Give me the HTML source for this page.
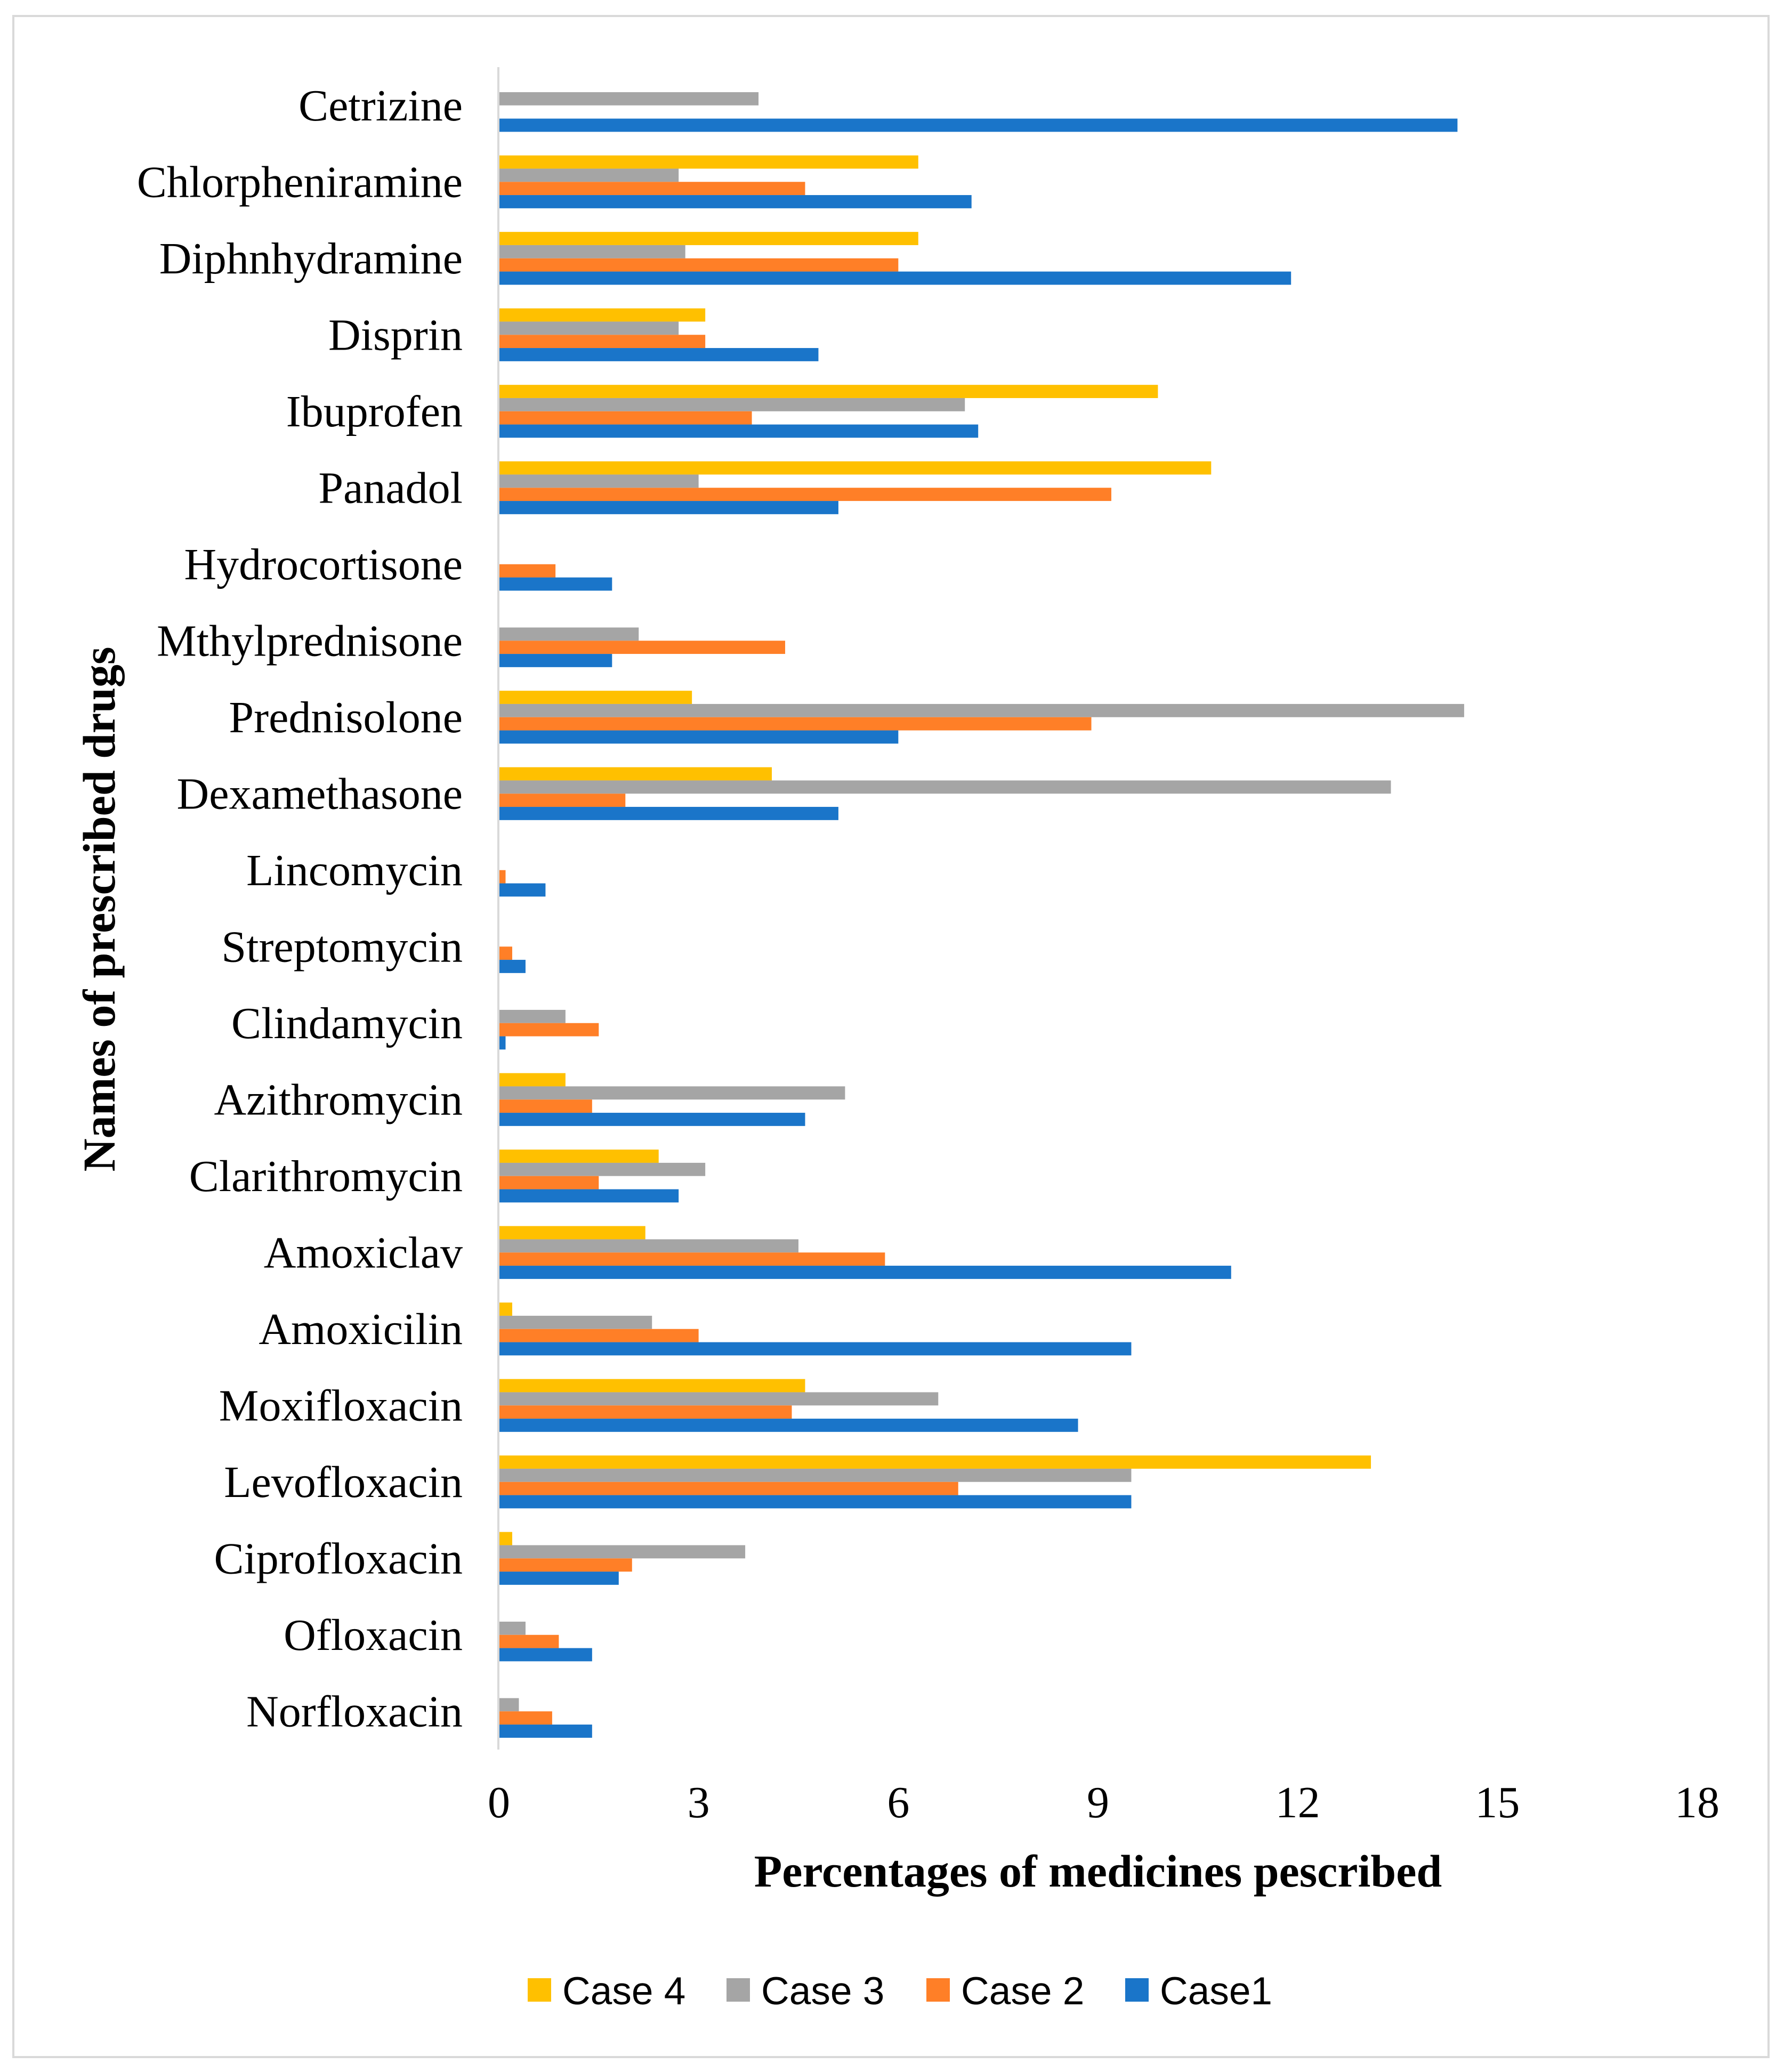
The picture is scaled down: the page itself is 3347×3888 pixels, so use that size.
<!DOCTYPE html>
<html><head><meta charset="utf-8"><style>
html,body{margin:0;padding:0;background:#fff}
svg{display:block;font-family:"Liberation Serif",serif}
.lg{font-family:"Liberation Sans",sans-serif;font-size:73px}
</style></head><body>
<svg id="chart" width="3347" height="3888" viewBox="0 0 3347 3888" xmlns="http://www.w3.org/2000/svg">
<rect x="25" y="30" width="3293" height="3830" fill="#fff" stroke="#D9D9D9" stroke-width="4"/>
<g id="plot"></g>
<text x="186" y="1706" transform="rotate(-90 186 1706)" text-anchor="middle" dominant-baseline="central" font-size="86" font-weight="bold">Names of prescribed drugs</text>
<text x="2060" y="3540" text-anchor="middle" font-size="86" font-weight="bold">Percentages of medicines pescribed</text>
<g>
<g><rect x="990" y="3712" width="44" height="44" fill="#FFC000"/><text class="lg" x="1055" y="3761">Case 4</text></g>
<g><rect x="1363" y="3712" width="44" height="44" fill="#A5A5A5"/><text class="lg" x="1428" y="3761">Case 3</text></g>
<g><rect x="1738" y="3712" width="44" height="44" fill="#FF7F27"/><text class="lg" x="1803" y="3761">Case 2</text></g>
<g><rect x="2111" y="3712" width="44" height="44" fill="#1A75C9"/><text class="lg" x="2176" y="3761">Case1</text></g>
</g>
</svg>
<script>
const categories = ["Cetrizine","Chlorpheniramine","Diphnhydramine","Disprin","Ibuprofen","Panadol","Hydrocortisone","Mthylprednisone","Prednisolone","Dexamethasone","Lincomycin","Streptomycin","Clindamycin","Azithromycin","Clarithromycin","Amoxiclav","Amoxicilin ","Moxifloxacin","Levofloxacin","Ciprofloxacin","Ofloxacin","Norfloxacin"];
const case4 = [0,6.3,6.3,3.1,9.9,10.7,0,0,2.9,4.1,0,0,0,1.0,2.4,2.2,0.2,4.6,13.1,0.2,0,0];
const case3 = [3.9,2.7,2.8,2.7,7.0,3.0,0,2.1,14.5,13.4,0,0,1.0,5.2,3.1,4.5,2.3,6.6,9.5,3.7,0.4,0.3];
const case2 = [0,4.6,6.0,3.1,3.8,9.2,0.85,4.3,8.9,1.9,0.1,0.2,1.5,1.4,1.5,5.8,3.0,4.4,6.9,2.0,0.9,0.8];
const case1 = [14.4,7.1,11.9,4.8,7.2,5.1,1.7,1.7,6.0,5.1,0.7,0.4,0.1,4.6,2.7,11.0,9.5,8.7,9.5,1.8,1.4,1.4];
const xTicks = [0,3,6,9,12,15,18];

const NS = "http://www.w3.org/2000/svg";
const plot = document.getElementById("plot");
const X0 = 936, X1 = 3184, XMAX = 18, YTOP = 126, YBOT = 3283;
const band = (YBOT - YTOP) / categories.length;
const barH = 24.8;
function xs(v){ return X0 + (v / XMAX) * (X1 - X0); }
function yc(i){ return YTOP + band * (i + 0.5); }
function mk(tag, attrs){ const e = document.createElementNS(NS, tag); for (const k in attrs) e.setAttribute(k, attrs[k]); return e; }

const series = [
  {vals: case4, color: "#FFC000", key: "case4"},
  {vals: case3, color: "#A5A5A5", key: "case3"},
  {vals: case2, color: "#FF7F27", key: "case2"},
  {vals: case1, color: "#1A75C9", key: "case1"}
];
categories.forEach((c, i) => {
  const cy = yc(i);
  const t = mk("text", {x: 868, y: cy + 28, "text-anchor": "end", "font-size": 84});
  t.textContent = c;
  
  
  plot.appendChild(t);
  series.forEach((s, k) => {
    const v = s.vals[i];
    const r = mk("rect", {x: X0, y: cy - 2 * barH + k * barH, width: Math.max(0, xs(v) - X0), height: barH, fill: s.color});
    
    
    plot.appendChild(r);
  });
});
const ax = mk("line", {x1: X0 - 1, x2: X0 - 1, y1: YTOP, y2: YBOT, stroke: "#D9D9D9", "stroke-width": 4});


plot.appendChild(ax);
xTicks.forEach(v => {
  const t = mk("text", {x: xs(v), y: 3410, "text-anchor": "middle", "font-size": 84});
  t.textContent = v;
  
  
  plot.appendChild(t);
});
</script>
</body></html>
